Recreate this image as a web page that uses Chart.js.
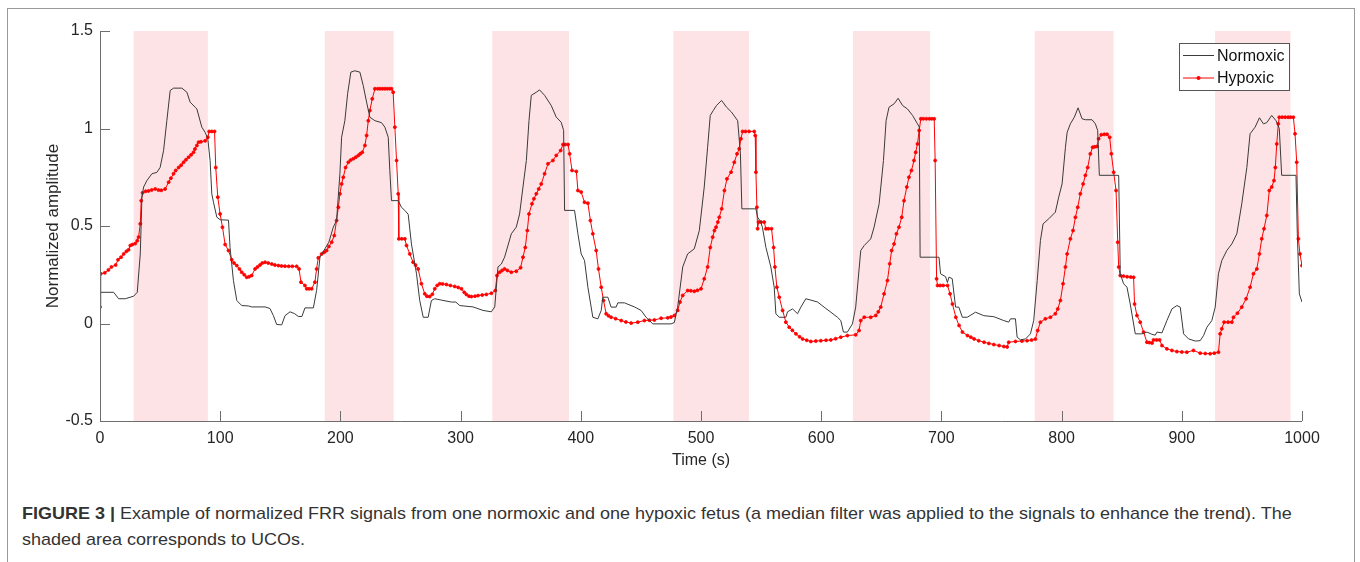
<!DOCTYPE html>
<html>
<head>
<meta charset="utf-8">
<script src="https://cdn.jsdelivr.net/npm/chart.js@4.4.0/dist/chart.umd.min.js"></script>
<style>
  html, body { margin: 0; padding: 0; background: #fff; }
  body { width: 1360px; height: 562px; position: relative; overflow: hidden; font-family: "Liberation Sans", Arial, sans-serif; }
  #frame { position: absolute; left: 7px; top: 8px; width: 1346px; height: 620px; border: 1px solid #9a9a9a; }
  #wrap { position: absolute; left: 0; top: 0; width: 1360px; height: 480px; }
  .cap { position: absolute; left: 22px; font-size: 17px; color: #333; white-space: nowrap; transform-origin: 0 50%; }
</style>
</head>
<body>
<div id="frame"></div>
<div id="wrap"><canvas id="frrChart"></canvas></div>
<div class="cap" id="cap1" style="top:504px"><b>FIGURE 3 |</b> Example of normalized FRR signals from one normoxic and one hypoxic fetus (a median filter was applied to the signals to enhance the trend). The</div>
<div class="cap" id="cap2" style="top:530px">shaded area corresponds to UCOs.</div>
<script>
// time (s), normalized amplitude
const normoxic = [
  [0,0.16],[11.4,0.16],[15.5,0.127],[21,0.127],[28,0.14],[31,0.16],[33.5,0.357],[34.9,0.648],[36.3,0.70],[39,0.733],
  [43.2,0.768],[47.3,0.775],[50,0.80],[52.9,0.887],[55.6,1.04],[58.4,1.195],[61.2,1.207],[68.1,1.207],[72.3,1.186],[75,1.135],
  [79.2,1.109],[80.6,1.10],[84.7,1.007],[87.5,0.98],[89.7,0.947],[91.6,0.836],[93,0.665],[94.4,0.622],[97.2,0.545],[100,0.532],
  [106.9,0.53],[108.2,0.39],[111,0.22],[113.8,0.118],[117.9,0.092],[123.5,0.09],[126.2,0.085],[137.3,0.085],[141.4,0.077],[144.2,0.041],
  [147,-0.005],[151.2,-0.007],[153.9,0.04],[158.1,0.06],[162,0.05],[165,0.036],[168,0.036],[170.5,0.08],[177.5,0.08],[180.2,0.169],
  [183,0.34],[187.1,0.383],[190.4,0.417],[194.1,0.494],[196.8,0.528],[199.6,0.768],[201,0.955],[203.7,1.04],[206,1.178],[208.7,1.289],
  [212,1.296],[216.2,1.289],[219,1.22],[221.8,1.135],[224.5,1.058],[228.7,1.04],[234.2,1.03],[237,1.007],[239.8,0.955],[241.1,0.785],
  [242.5,0.63],[248.1,0.63],[250.8,0.596],[253.6,0.58],[256.4,0.56],[259.1,0.408],[263.3,0.255],[266,0.118],[268.9,0.032],[273,0.032],
  [275.7,0.118],[278.5,0.127],[284,0.12],[292.4,0.11],[296,0.11],[299.3,0.092],[310.4,0.085],[318.7,0.067],[325.6,0.06],[328.4,0.085],
  [331.1,0.29],[333.9,0.305],[336.6,0.34],[342.2,0.46],[346.3,0.494],[349.1,0.562],[351.9,0.70],[354.7,0.836],[356.9,1.04],[358.8,1.17],
  [363,1.186],[365.7,1.198],[369.9,1.17],[375.4,1.118],[379.6,1.058],[383.7,1.032],[385.7,0.99],[386.5,0.58],[394.8,0.58],[397.6,0.46],
  [400.3,0.357],[403.1,0.323],[405.9,0.186],[410,0.032],[414.2,0.024],[417,0.067],[418.3,0.135],[422.5,0.135],[425.2,0.084],[429.4,0.084],
  [430.8,0.106],[436.3,0.106],[444.6,0.085],[450.2,0.067],[454.3,0.032],[459.9,-0.002],[475.1,-0.002],[477.8,0.005],[480.6,0.084],[484.8,0.29],
  [488.9,0.357],[494.4,0.383],[498.6,0.477],[502.7,0.70],[505.5,0.904],[507.7,1.067],[510.2,1.092],[512.9,1.118],[517.1,1.144],[521.3,1.109],
  [525.4,1.084],[530.5,1.04],[532.8,0.87],[534,0.588],[545.7,0.588],[547.1,0.545],[549.8,0.52],[551.2,0.49],[554,0.39],[558.1,0.29],
  [560.9,0.186],[562.3,0.05],[565.1,0.032],[570.6,0.032],[572,0.06],[576.2,0.075],[580.3,0.05],[583.1,0.084],[587.2,0.127],[591.4,0.12],
  [597,0.11],[602.4,0.084],[608,0.058],[613.5,0.032],[616.3,0.015],[618.5,-0.044],[621.8,-0.044],[626,-0.002],[628.7,0.084],[632.9,0.374],
  [635.8,0.40],[641.2,0.434],[644,0.494],[648.2,0.614],[651.8,0.836],[654,1.04],[656.4,1.109],[660.7,1.127],[664,1.155],[667.7,1.118],
  [671.8,1.10],[676,1.067],[680.1,1.024],[681.6,1.007],[682.3,0.34],[698,0.34],[699.3,0.255],[703.5,0.24],[705,0.21],[706.3,0.238],
  [709,0.23],[711.8,0.084],[714.5,0.084],[717.4,0.032],[721.5,0.032],[728.4,0.058],[735.3,0.04],[743.6,0.035],[751.9,0.015],[756,0.007],
  [757.5,0.024],[761.6,0.024],[763,-0.07],[765.8,-0.084],[770,-0.079],[774.1,-0.053],[776.8,0.015],[779.7,0.22],[782.4,0.426],[784.6,0.511],
  [789.3,0.537],[794.8,0.571],[797.6,0.648],[800.4,0.716],[803.2,0.904],[804.6,0.98],[807.3,1.024],[810.6,1.058],[813.7,1.106],[817,1.05],
  [819.8,1.045],[825.3,1.045],[828.1,1.024],[830,0.99],[831.4,0.76],[847.5,0.76],[848.8,0.255],[851.6,0.204],[854.4,0.186],[857.1,0.10],
  [861.3,-0.053],[866.8,-0.053],[871,-0.044],[875,-0.055],[877.9,-0.06],[879.3,-0.044],[883.5,-0.048],[887.6,0.015],[891.8,0.075],[895.9,0.092],
  [898.7,0.084],[901.5,-0.053],[905.6,-0.079],[911.2,-0.09],[915.3,-0.088],[918.1,-0.062],[920.9,-0.019],[925,0.015],[927.8,0.084],[930.5,0.255],
  [933.3,0.323],[937.4,0.374],[941.6,0.408],[945.8,0.46],[949.9,0.614],[954.1,0.80],[956.8,0.973],[961,1.007],[964.6,1.055],[967.9,1.024],
  [970.7,1.03],[974.8,1.067],[978.4,1.04],[981.1,1.0],[983.1,0.76],[995,0.76],[996.1,0.46],[997.8,0.152],[1000,0.11]
];

const hypoxic = [
  [0,0.084],[0.6,0.255],[4,0.26],[7,0.275],[9.5,0.29],[13,0.30],[15,0.327],[17.5,0.34],[19.7,0.357],[22,0.37],
  [23.8,0.378],[25.2,0.40],[27,0.405],[29.3,0.41],[31,0.425],[32.1,0.443],[33.5,0.511],[34.3,0.63],[35.4,0.67],[38,0.678],
  [40.4,0.68],[43,0.685],[46,0.69],[48.7,0.684],[51,0.683],[54.2,0.69],[57.1,0.725],[59,0.745],[61.2,0.768],[63,0.785],
  [65.4,0.80],[67.5,0.812],[69.5,0.827],[71.5,0.84],[73.7,0.853],[75.8,0.865],[77.8,0.878],[79,0.895],[80.6,0.913],[82,0.93],
  [84,0.932],[87.5,0.937],[89.7,0.955],[90.8,0.985],[93,0.985],[95.3,0.985],[96.3,0.80],[98,0.648],[99.9,0.562],[101.9,0.494],
  [104.1,0.405],[106.9,0.374],[109.6,0.327],[111.5,0.31],[113.8,0.297],[116,0.28],[117.9,0.263],[120,0.25],[122.1,0.237],[124,0.24],
  [126.2,0.246],[129,0.28],[131,0.29],[133.1,0.30],[135,0.31],[137.3,0.314],[140,0.31],[142.9,0.305],[145.5,0.30],[148.4,0.297],
  [151,0.295],[153.9,0.294],[157,0.293],[160,0.293],[163.6,0.293],[165.6,0.28],[167.2,0.212],[170.5,0.195],[172,0.178],[174,0.178],
  [176.1,0.178],[178.8,0.212],[180.2,0.28],[181.6,0.337],[184.4,0.357],[186.5,0.365],[188.5,0.374],[190.4,0.395],[192.7,0.417],[194.9,0.451],
  [196.8,0.528],[198.3,0.596],[199.6,0.665],[201,0.716],[202.4,0.75],[204.3,0.80],[206.6,0.827],[208.5,0.838],[210.7,0.845],[212.8,0.853],
  [214.9,0.862],[216.5,0.87],[218.2,0.878],[220.4,0.913],[221.8,0.964],[223.2,1.04],[224.5,1.092],[226.5,1.152],[228.7,1.204],[231,1.204],
  [233,1.204],[235,1.204],[237,1.204],[239,1.204],[241,1.204],[242.5,1.204],[243.9,1.186],[245.3,1.007],[246.7,0.836],[248.1,0.665],
  [248.6,0.434],[251,0.434],[253.6,0.434],[255,0.40],[257.7,0.357],[260.5,0.314],[262.5,0.30],[264.7,0.28],[267.4,0.204],[270.2,0.152],
  [272,0.14],[274.3,0.138],[276.5,0.15],[278.5,0.178],[280.5,0.195],[282.6,0.204],[285,0.203],[288.2,0.20],[291.5,0.195],[295.1,0.19],
  [298,0.185],[300.7,0.178],[303,0.16],[304.8,0.149],[307,0.14],[309,0.138],[312,0.14],[314.5,0.143],[318,0.146],[321.4,0.149],
  [325.6,0.155],[328.9,0.169],[330.3,0.246],[332.5,0.263],[334.5,0.272],[336.6,0.28],[339,0.272],[342.2,0.263],[346.3,0.268],[349.9,0.286],
  [351.9,0.34],[353.8,0.39],[355.5,0.477],[356.9,0.562],[359.4,0.614],[361,0.64],[363,0.665],[365,0.69],[367.1,0.716],[369.9,0.768],
  [372.7,0.819],[376.8,0.836],[379.6,0.862],[383.2,0.887],[385.2,0.918],[387,0.918],[389.4,0.918],[390.7,0.87],[392.7,0.785],[396.3,0.78],
  [397.6,0.682],[400.3,0.674],[403.1,0.622],[405.9,0.617],[408,0.528],[410,0.46],[412.8,0.374],[414.7,0.28],[417,0.186],[418.9,0.118],
  [421.1,0.05],[423,0.04],[425.2,0.032],[429,0.025],[433.6,0.015],[437.5,0.008],[441.9,0.002],[447.4,0.007],[452.9,0.015],[457,0.017],
  [461.2,0.018],[466.8,0.027],[472.3,0.029],[475,0.033],[477.8,0.041],[480.6,0.067],[482.5,0.11],[484.8,0.144],[488.9,0.169],[491.5,0.168],
  [494.4,0.165],[497,0.17],[500,0.178],[502.7,0.229],[505.5,0.29],[507.7,0.39],[509.7,0.443],[511.2,0.477],[512.5,0.494],[514,0.52],
  [515.2,0.545],[517.2,0.588],[519.5,0.682],[521.6,0.742],[525,0.776],[527.7,0.827],[530,0.87],[531.8,0.896],[533.2,0.947],[534.6,0.985],
  [537,0.985],[540,0.985],[544.3,0.985],[545.1,0.964],[545.7,0.776],[546.5,0.596],[547.1,0.486],[547.9,0.52],[550,0.52],[552.6,0.52],
  [554,0.486],[556,0.486],[558.7,0.486],[560.4,0.39],[561.5,0.29],[563.1,0.186],[565.1,0.135],[567.9,0.067],[570.6,0.007],[573.4,-0.019],
  [576,-0.035],[579,-0.053],[582,-0.068],[584.5,-0.079],[588,-0.086],[591.4,-0.092],[595.5,-0.09],[599.7,-0.088],[604,-0.086],[608,-0.084],
  [612,-0.078],[616.3,-0.07],[621.8,-0.062],[628.7,-0.058],[631.5,-0.036],[632.9,0.015],[635.8,0.032],[641.2,0.032],[645.4,0.041],[647.5,0.06],
  [649.5,0.084],[652.3,0.152],[655.1,0.22],[657,0.306],[658.6,0.374],[660.6,0.408],[662.6,0.46],[664.7,0.494],[667,0.545],[668.9,0.63],
  [671.2,0.70],[673,0.75],[675.1,0.785],[677.2,0.836],[678.6,0.878],[680.1,0.921],[681.5,0.99],[682.9,1.05],[685,1.05],[687.5,1.05],
  [690,1.05],[692,1.05],[694,1.05],[694.8,0.836],[696,0.229],[696.8,0.195],[699,0.195],[701.5,0.195],[705.1,0.195],[707.2,0.152],
  [709.2,0.10],[712,0.032],[714.7,-0.01],[717.5,-0.044],[721.7,-0.062],[724.5,-0.07],[727.2,-0.079],[731,-0.088],[735.5,-0.096],[739.5,-0.102],
  [743.6,-0.108],[748,-0.113],[752,-0.118],[754.7,-0.12],[756,-0.096],[761.6,-0.092],[767,-0.09],[771.3,-0.088],[775,-0.085],[778.2,-0.08],
  [780.1,-0.036],[782.4,0.007],[786.5,0.024],[790.7,0.032],[794.8,0.05],[796.8,0.075],[799,0.118],[801.2,0.204],[803.2,0.29],[804.6,0.357],
  [807.3,0.434],[809.5,0.477],[811.5,0.545],[813.4,0.596],[815.6,0.665],[817.9,0.716],[819.8,0.76],[821.7,0.80],[823.9,0.87],[825.8,0.904],
  [827.5,0.906],[829.5,0.908],[830.8,0.947],[833,0.968],[835.5,0.97],[837.8,0.97],[840,0.955],[841.4,0.87],[843.3,0.776],[845.3,0.682],
  [846.7,0.417],[847.5,0.29],[848.8,0.246],[851.5,0.243],[854.5,0.24],[857.5,0.238],[859.9,0.237],[860.7,0.10],[862.7,0.041],[865.4,0.007],
  [868.2,-0.044],[871,-0.096],[873,-0.098],[875.2,-0.10],[876.5,-0.084],[879,-0.084],[881.5,-0.084],[883.5,-0.113],[887.6,-0.13],[891.8,-0.138],
  [895.9,-0.144],[900,-0.146],[904.2,-0.147],[909.7,-0.138],[915.3,-0.152],[919.5,-0.154],[923.6,-0.155],[927,-0.152],[930.5,-0.147],[931.9,-0.053],
  [933.3,-0.027],[935.2,0.007],[938.5,0.007],[941.6,0.007],[943,0.032],[946.3,0.053],[949.9,0.084],[953.5,0.127],[956.8,0.186],[959.6,0.255],
  [962.4,0.28],[964.6,0.357],[966.5,0.434],[968.4,0.486],[970.7,0.554],[972.8,0.682],[974.8,0.70],[976.7,0.733],[977.8,0.80],[979,0.921],
  [980.3,1.024],[981.1,1.058],[983.5,1.058],[986,1.058],[988.5,1.058],[990.5,1.058],[992.8,1.058],[994.2,0.973],[995.6,0.827],[997,0.434],
  [998.3,0.357],[1000,0.297]
];

// umbilical cord occlusions (start, end) in seconds
const ucoPeriods = [[28,89.7],[187,244.3],[326.4,390.2],[477,540],[626.4,690.6],[777.6,843.2],[927.7,990.5]];

const xTicks = [0, 100, 200, 300, 400, 500, 600, 700, 800, 900, 1000];
const yTicks = [-0.5, 0, 0.5, 1, 1.5];
const seriesNames = ['Normoxic', 'Hypoxic'];

const textColor = '#262626';
const axisColor = '#6e6e6e';
const fontFamily = '"Liberation Sans", Arial, sans-serif';

const frrDecor = {
    id: 'frrDecor',
    beforeDatasetsDraw(chart) {
        const {ctx, chartArea: a, scales: {x}} = chart;
        ctx.save();
        ctx.fillStyle = 'rgb(253, 227, 229)';
        ucoPeriods.forEach(p => {
            const x0 = x.getPixelForValue(p[0]);
            const x1 = x.getPixelForValue(p[1]);
            ctx.fillRect(x0, a.top, x1 - x0, a.bottom - a.top);
        });
        ctx.restore();
    },
    afterDatasetsDraw(chart) {
        const {ctx, chartArea: a, scales: {x, y}} = chart;
        ctx.save();
        // axes, MATLAB style with inward ticks
        ctx.strokeStyle = axisColor;
        ctx.lineWidth = 1;
        ctx.beginPath();
        ctx.moveTo(a.left + 0.5, a.top);
        ctx.lineTo(a.left + 0.5, a.bottom + 0.5);
        ctx.lineTo(a.right, a.bottom + 0.5);
        yTicks.forEach(v => {
            const py = Math.round(y.getPixelForValue(v)) + 0.5;
            ctx.moveTo(a.left, py);
            ctx.lineTo(a.left + 10, py);
        });
        xTicks.forEach(v => {
            const px = Math.round(x.getPixelForValue(v)) + 0.5;
            ctx.moveTo(px, a.bottom);
            ctx.lineTo(px, a.bottom - 10);
        });
        ctx.stroke();

        // legend box
        const w = 110, h = 47;
        const bx = a.right - 13 - w, by = a.top + 12;
        ctx.fillStyle = '#fff';
        ctx.fillRect(bx, by, w, h);
        ctx.strokeStyle = '#555';
        ctx.strokeRect(bx + 0.5, by + 0.5, w, h);
        const rows = [by + 12.5, by + 35];
        ctx.font = '16px ' + fontFamily;
        ctx.textBaseline = 'middle';
        chart.data.datasets.forEach((ds, i) => {
            ctx.strokeStyle = ds.borderColor;
            ctx.beginPath();
            ctx.moveTo(bx + 4, rows[i]);
            ctx.lineTo(bx + 35, rows[i]);
            ctx.stroke();
            if (ds.pointRadius > 0) {
                ctx.fillStyle = ds.borderColor;
                ctx.beginPath();
                ctx.arc(bx + 19.5, rows[i], 2, 0, Math.PI * 2);
                ctx.fill();
            }
            ctx.fillStyle = '#111';
            ctx.fillText(seriesNames[i], bx + 38, rows[i] + 1);
        });
        ctx.restore();
    }
};

const ctx = document.getElementById('frrChart').getContext('2d');
const frrChart = new Chart(ctx, {
    type: 'line',
    data: {
        datasets: [{
            label: seriesNames[0],
            data: normoxic.map(p => ({x: p[0], y: p[1]})),
            borderColor: '#3a3a3a',
            borderWidth: 1,
            pointRadius: 0,
            tension: 0
        }, {
            label: seriesNames[1],
            data: hypoxic.map(p => ({x: p[0], y: p[1]})),
            borderColor: '#ff0000',
            backgroundColor: '#ff0000',
            borderWidth: 1,
            pointRadius: 1.5,
            pointBorderWidth: 0.8,
            pointBackgroundColor: '#ff0000',
            pointBorderColor: '#ff0000',
            tension: 0
        }]
    },
    options: {
        responsive: true,
        maintainAspectRatio: false,
        animation: false,
        layout: { padding: { left: 39, top: 31, right: 58, bottom: 6 } },
        plugins: { legend: { display: false }, tooltip: { enabled: false } },
        scales: {
            x: {
                type: 'linear',
                min: 0,
                max: 1000,
                afterBuildTicks: s => { s.ticks = xTicks.map(v => ({value: v})); },
                afterFit: s => { s.height = 53; },
                ticks: {
                    callback: v => String(v),
                    color: textColor,
                    font: { size: 16, family: fontFamily },
                    padding: 8,
                    maxRotation: 0,
                    autoSkip: false
                },
                grid: { display: false, drawTicks: false },
                border: { display: false },
                title: {
                    display: true,
                    text: 'Time (s)',
                    color: textColor,
                    font: { size: 16, family: fontFamily },
                    padding: { top: 4, bottom: 4 }
                }
            },
            y: {
                min: -0.5,
                max: 1.5,
                afterBuildTicks: s => { s.ticks = yTicks.map(v => ({value: v})); },
                afterFit: s => { s.width = 61; },
                ticks: {
                    callback: v => String(v),
                    color: textColor,
                    font: { size: 16, family: fontFamily },
                    padding: 7
                },
                grid: { display: false, drawTicks: false },
                border: { display: false },
                title: {
                    display: true,
                    text: 'Normalized amplitude',
                    color: textColor,
                    font: { size: 17, family: fontFamily },
                    padding: { top: 4, bottom: 4 }
                }
            }
        }
    },
    plugins: [frrDecor]
});

// squeeze the caption to the width of the original (narrow typeface)
const cap1 = document.getElementById('cap1');
const cap2 = document.getElementById('cap2');
const k = 1270 / cap1.scrollWidth;
cap1.style.transform = 'scaleX(' + k + ')';
cap2.style.transform = 'scaleX(' + k + ')';
</script>
</body>
</html>
